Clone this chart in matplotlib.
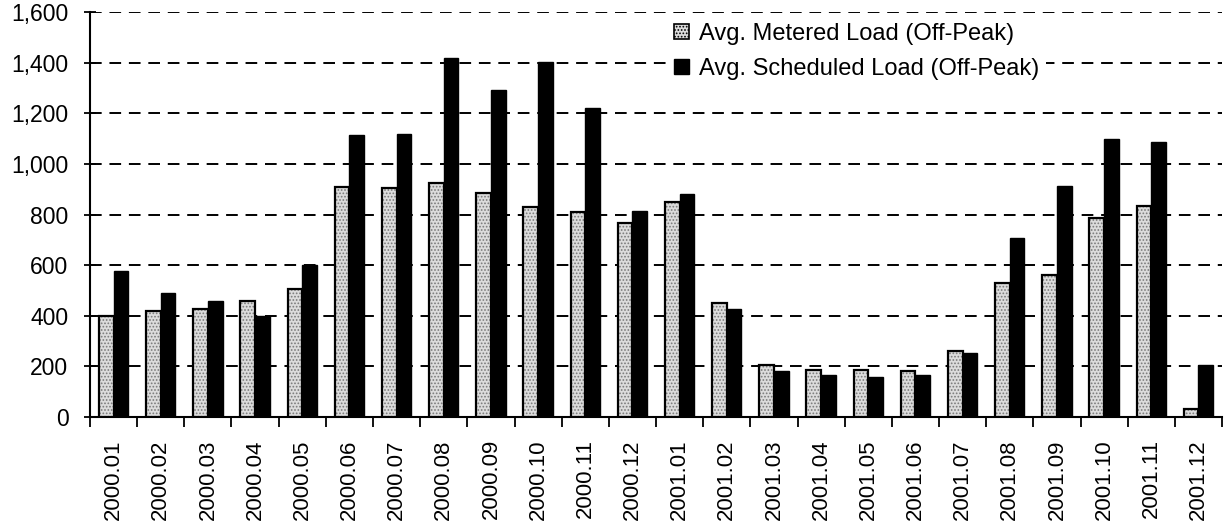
import matplotlib.pyplot as plt
from matplotlib.patches import Patch
import numpy as np

# monthly off-peak loads
months = ['2000.01', '2000.02', '2000.03', '2000.04', '2000.05', '2000.06',
          '2000.07', '2000.08', '2000.09', '2000.10', '2000.11', '2000.12',
          '2001.01', '2001.02', '2001.03', '2001.04', '2001.05', '2001.06',
          '2001.07', '2001.08', '2001.09', '2001.10', '2001.11', '2001.12']
metered = [400, 420, 425, 460, 505, 910, 905, 925, 885, 830, 810, 765,
           850, 450, 205, 185, 185, 180, 260, 530, 560, 785, 835, 30]
scheduled = [578, 488, 460, 400, 600, 1115, 1120, 1420, 1290, 1402, 1220, 812,
             880, 425, 180, 165, 160, 165, 252, 708, 912, 1100, 1085, 205]
yticks = [0, 200, 400, 600, 800, 1000, 1200, 1400, 1600]

plt.rcParams['font.family'] = ['Liberation Sans', 'DejaVu Sans']
plt.rcParams['hatch.color'] = '#7a7a7a'
plt.rcParams['hatch.linewidth'] = 0.8

fig = plt.figure(figsize=(12.29, 5.30), dpi=100)
ax = fig.add_axes([90 / 1229, 1 - 417 / 530, (1222 - 90) / 1229, 405 / 530])

x = np.arange(len(months))
w = 0.31

# stippled fill first, then a black outline on top
ax.bar(x - w / 2, metered, w, color='#dcdcdc', hatch='.....', edgecolor='#7a7a7a',
       linewidth=0, zorder=3)
ax.bar(x - w / 2, metered, w, fill=False, edgecolor='black', linewidth=1.6, zorder=4)
ax.bar(x + w / 2, scheduled, w, color='black', edgecolor='black', linewidth=1, zorder=3)

ax.set_xlim(-0.5, len(months) - 0.5)
ax.set_ylim(0, 1600)
ax.set_yticks(yticks)
ax.set_yticklabels([f'{v:,}' for v in yticks], fontsize=16.5)
ax.tick_params(axis='y', direction='inout', length=9, width=1.3, pad=11)

ax.set_xticks(x)
ax.set_xticklabels(months, rotation=90, fontsize=16)
ax.tick_params(axis='x', which='major', length=0, pad=16)
ax.set_xticks(np.arange(-0.5, len(months), 1), minor=True)
ax.tick_params(axis='x', which='minor', length=7, width=1.3, direction='out')

ax.yaxis.grid(True, color='black', linestyle=(0, (6, 4)), linewidth=1.4, zorder=1)
ax.set_axisbelow(True)

for side in ['top', 'right']:
    ax.spines[side].set_visible(False)
ax.spines['left'].set_linewidth(1.5)
ax.spines['bottom'].set_linewidth(1.5)

handles = [Patch(facecolor='#dcdcdc', hatch='.....', edgecolor='black', linewidth=1.2),
           Patch(facecolor='black', edgecolor='black')]
labels = ['Avg. Metered Load (Off-Peak)', 'Avg. Scheduled Load (Off-Peak)']
leg = fig.legend(handles, labels, loc='upper left', bbox_to_anchor=(655 / 1229, 1 - 4 / 530),
                 frameon=True, fontsize=17, handlelength=0.65, handleheight=0.65,
                 handletextpad=0.4, labelspacing=0.55, borderpad=0.3, fancybox=False)
leg.get_frame().set_facecolor('white')
leg.get_frame().set_edgecolor('none')
leg.get_frame().set_alpha(1)

fig.savefig('out.png', dpi=100)
